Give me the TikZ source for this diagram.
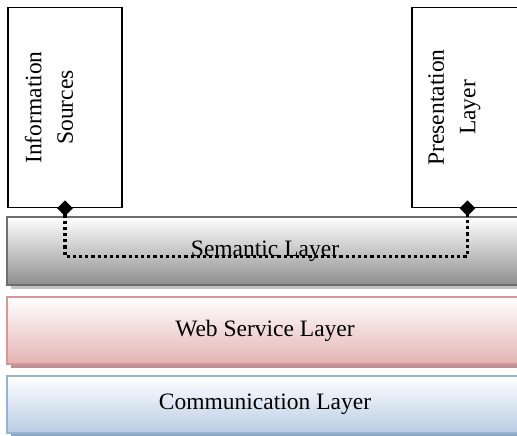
\documentclass[tikz,border=0pt]{standalone}
\usepackage{fontspec}
\setmainfont{Liberation Serif}
\usetikzlibrary{shapes.geometric,shadows}

\definecolor{semedge}{HTML}{6F6F6F}
\definecolor{sembot}{HTML}{8E8E8E}
\definecolor{semshade}{HTML}{C2C2C2}
\definecolor{webedge}{HTML}{D99694}
\definecolor{webbot}{HTML}{E3B4B3}
\definecolor{webshade}{HTML}{B89393}
\definecolor{comedge}{HTML}{95B3D7}
\definecolor{combot}{HTML}{B8CCE4}
\definecolor{comshade}{HTML}{8FA4BE}

% two lines, pushed towards the top of the rotated box
\newcommand{\sidetext}[2]{\raisebox{8pt}{\begin{tabular}{@{}c@{}}#1\\#2\end{tabular}}}

\tikzset{
  layer/.style={rectangle, line width=1.6pt, minimum width=516pt,
    top color=white, drop shadow={shadow xshift=4pt, shadow yshift=-4pt,
    opacity=1, fill=#1}},
  sidebox/.style={rectangle, draw=black, line width=1.4pt, fill=white,
    rotate=90, minimum height=#1, minimum width=200pt,
    text height=0pt, text depth=0pt},
  joint/.style={diamond, fill=black, inner sep=0pt, minimum size=16pt},
  link/.style={line width=3.4pt, dash pattern=on 3.2pt off 3pt}
}

\begin{document}
\begin{tikzpicture}[x=1pt, y=-1pt, font=\fontsize{23.5}{31.5}\selectfont]
\clip (0,0) rectangle (517,436);

% the three stacked layers
\node[layer=semshade, draw=semedge, bottom color=sembot, minimum height=68pt]
  (sem) at (265,251) {Semantic Layer};
\node[layer=webshade, draw=webedge, bottom color=webbot, minimum height=67pt]
  (web) at (265,330.5) {Web Service Layer};
\node[layer=comshade, draw=comedge, bottom color=combot, minimum height=57pt]
  (com) at (265,404.5) {Communication Layer};

% vertical boxes on top
\node[sidebox=114pt] (info) at (65,107.5) {\sidetext{Information}{Sources}};
\node[sidebox=111pt] (pres) at (467.5,107.5) {\sidetext{Presentation}{Layer}};

% dotted link through the semantic layer
\draw[link] (info.west) -- ++(0,48) -| (pres.west);

\node[joint] (j1) at (info.west) {};
\node[joint] (j2) at (pres.west) {};
\end{tikzpicture}
\end{document}
